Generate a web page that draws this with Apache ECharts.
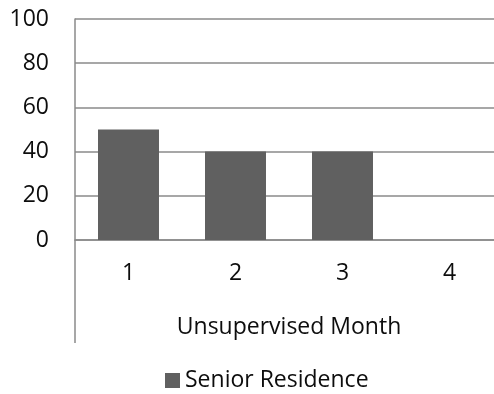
<!DOCTYPE html>
<html>
<head>
<meta charset="utf-8">
<script src="https://cdn.jsdelivr.net/npm/echarts@6/dist/echarts.min.js"></script>
<style>
  html, body { margin: 0; padding: 0; background: #fff; }
  #chart { width: 494px; height: 394px; }
</style>
</head>
<body>
<div id="chart"></div>
<script>
// Unsupervised months and counts for the senior residence
const months = ['1', '2', '3', '4'];
const seniorResidence = [50, 40, 40, 0];
const yTicks = [0, 20, 40, 60, 80, 100];

const FONT = 'Open Sans';
const FONT_SIZE = 23;
const TEXT_COLOR = '#0d0d0d';
const GRID_COLOR = '#8a8a8a';

const chart = echarts.init(document.getElementById('chart'), null, { renderer: 'canvas' });

chart.setOption({
  animation: false,
  backgroundColor: '#ffffff',
  textStyle: { fontFamily: FONT, color: TEXT_COLOR },
  // the plot runs on past the right edge of the canvas
  grid: { left: 75, top: 19, width: 428, height: 221, containLabel: false, outerBoundsMode: 'none' },
  legend: {
    data: ['Senior Residence'],
    top: 369,
    left: 165,
    padding: 0,
    itemWidth: 15,
    itemHeight: 15,
    itemGap: 4,
    icon: 'rect',
    textStyle: { fontFamily: FONT, fontSize: FONT_SIZE, color: TEXT_COLOR }
  },
  xAxis: {
    type: 'category',
    data: months,
    boundaryGap: true,
    name: 'Unsupervised Month',
    nameLocation: 'middle',
    nameGap: 76,
    nameTextStyle: { fontFamily: FONT, fontSize: FONT_SIZE, color: TEXT_COLOR },
    axisLine: { show: true, lineStyle: { color: GRID_COLOR, width: 1.5 } },
    axisTick: {
      show: true,
      length: 103,
      interval: function (index) { return index === 0; },
      lineStyle: { color: GRID_COLOR, width: 1.5 }
    },
    axisLabel: { margin: 22, fontFamily: FONT, fontSize: FONT_SIZE, color: TEXT_COLOR }
  },
  yAxis: {
    type: 'value',
    min: 0,
    max: 100,
    interval: 20,
    axisLine: { show: true, lineStyle: { color: GRID_COLOR, width: 1.5 } },
    axisTick: { show: false },
    splitLine: { show: true, lineStyle: { color: GRID_COLOR, width: 1.5 } },
    axisLabel: {
      margin: 26,
      fontFamily: FONT,
      fontSize: FONT_SIZE,
      color: TEXT_COLOR,
      formatter: function (v) { return yTicks.indexOf(v) >= 0 ? String(v) : ''; }
    }
  },
  series: [{
    name: 'Senior Residence',
    type: 'bar',
    data: seniorResidence,
    barWidth: '57%',
    itemStyle: { color: '#606060' }
  }]
});
</script>
</body>
</html>
